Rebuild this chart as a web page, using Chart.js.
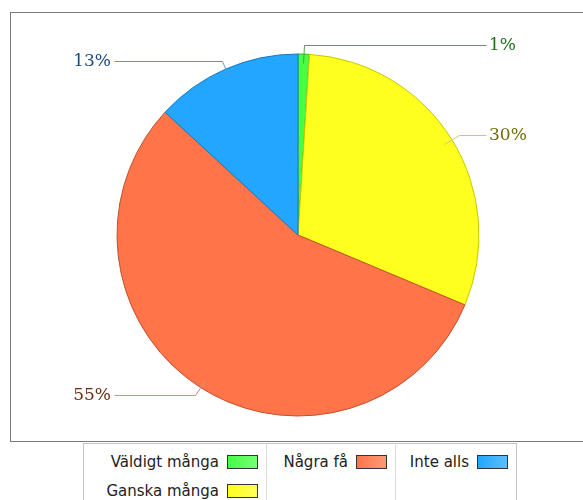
<!DOCTYPE html>
<html>
<head>
<meta charset="utf-8">
<script src="https://cdn.jsdelivr.net/npm/chart.js@4/dist/chart.umd.min.js"></script>
<style>
  body { margin: 0; background: #fff; width: 583px; height: 500px; overflow: hidden; position: relative; }
  #frame { position: absolute; left: 10px; top: 12px; width: 620px; height: 428px; border: 1px solid #7a7a7a; }
  #wrap { position: absolute; left: 0; top: 0; width: 583px; height: 500px; }
  #legend { position: absolute; left: 83px; top: 443px; border: 1px solid #c4c4c4; border-collapse: collapse;
            font-family: "DejaVu Sans", sans-serif; font-size: 15px; color: #222; background: #fff; }
  #legend td { vertical-align: top; padding: 3px 0 0 0; }
  #legend td + td { border-left: 1px solid #dcdcdc; }
  .item { display: flex; justify-content: flex-end; align-items: center; height: 29px; padding-right: 8px; }
  .sw { display: inline-block; width: 29px; height: 12px; margin-left: 8px; border: 1px solid #333; }
</style>
</head>
<body>
<div id="frame"></div>
<div id="wrap"><canvas id="pie" width="583" height="500"></canvas></div>
<table id="legend"><tr id="legendRow"></tr></table>
<script>
// data
const categories = ['Väldigt många', 'Ganska många', 'Några få', 'Inte alls'];
const values = [1, 30, 55, 13];
const sliceColors = ['#44ff44', '#ffff1f', '#ff7449', '#22a6ff'];
const sliceBorders = ['#2fb82f', '#c8c800', '#c05030', '#1a7ac0'];
const labelColors = ['#1e6e1e', '#6e6e00', '#6a2a12', '#1a4a78'];
const leaderColors = ['#45a845', '#c8c878', '#c49484', '#5a98cc'];
const legendColumns = [[0, 1], [2], [3]];
const columnWidths = [182, 128, 120];

// leader lines + percent labels
const pieLabels = {
    id: 'pieLabels',
    afterDatasetsDraw(chart) {
        const ctx = chart.ctx;
        const meta = chart.getDatasetMeta(0);
        ctx.save();
        ctx.font = '17px "DejaVu Serif", serif';
        ctx.textBaseline = 'middle';
        ctx.lineWidth = 1;
        meta.data.forEach((arc, i) => {
            const p = arc.getProps(['x', 'y', 'startAngle', 'endAngle', 'outerRadius'], true);
            const mid = (p.startAngle + p.endAngle) / 2;
            const r = p.outerRadius;
            const x1 = p.x + Math.cos(mid) * r * 0.95, y1 = p.y + Math.sin(mid) * r * 0.95;
            const x2 = p.x + Math.cos(mid) * r * 1.05, y2 = p.y + Math.sin(mid) * r * 1.05;
            const right = Math.cos(mid) >= 0;
            const x3 = right ? p.x + r + 7 : p.x - r - 3;
            ctx.strokeStyle = leaderColors[i];
            ctx.beginPath();
            ctx.moveTo(Math.round(x1) + 0.5, Math.round(y1) + 0.5);
            ctx.lineTo(Math.round(x2) + 0.5, Math.round(y2) + 0.5);
            ctx.lineTo(Math.round(x3) + 0.5, Math.round(y2) + 0.5);
            ctx.stroke();
            ctx.fillStyle = labelColors[i];
            ctx.textAlign = right ? 'left' : 'right';
            ctx.fillText(values[i] + '%', right ? x3 + 3 : x3 - 3, y2 + 1);
        });
        ctx.restore();
    }
};

new Chart(document.getElementById('pie'), {
    type: 'pie',
    data: {
        labels: categories,
        datasets: [{
            data: values,
            backgroundColor: sliceColors,
            borderColor: sliceBorders,
            borderWidth: 1
        }]
    },
    options: {
        responsive: false,
        animation: false,
        radius: 181,
        layout: { padding: { left: 13, right: 0, top: 0, bottom: 30 } },
        plugins: {
            legend: { display: false },
            tooltip: { enabled: false }
        }
    },
    plugins: [pieLabels]
});

// html legend, column-major like the reference
const row = document.getElementById('legendRow');
legendColumns.forEach((col, c) => {
    const td = document.createElement('td');
    td.style.width = columnWidths[c] + 'px';
    col.forEach(i => {
        const div = document.createElement('div');
        div.className = 'item';
        const sw = document.createElement('span');
        sw.className = 'sw';
        sw.style.background = 'linear-gradient(to right, ' + sliceColors[i] + ', ' + sliceColors[i] + 'bb)';
        div.appendChild(document.createTextNode(categories[i]));
        div.appendChild(sw);
        td.appendChild(div);
    });
    if (col.length < 2) td.appendChild(Object.assign(document.createElement('div'), { className: 'item' }));
    row.appendChild(td);
});
</script>
</body>
</html>
